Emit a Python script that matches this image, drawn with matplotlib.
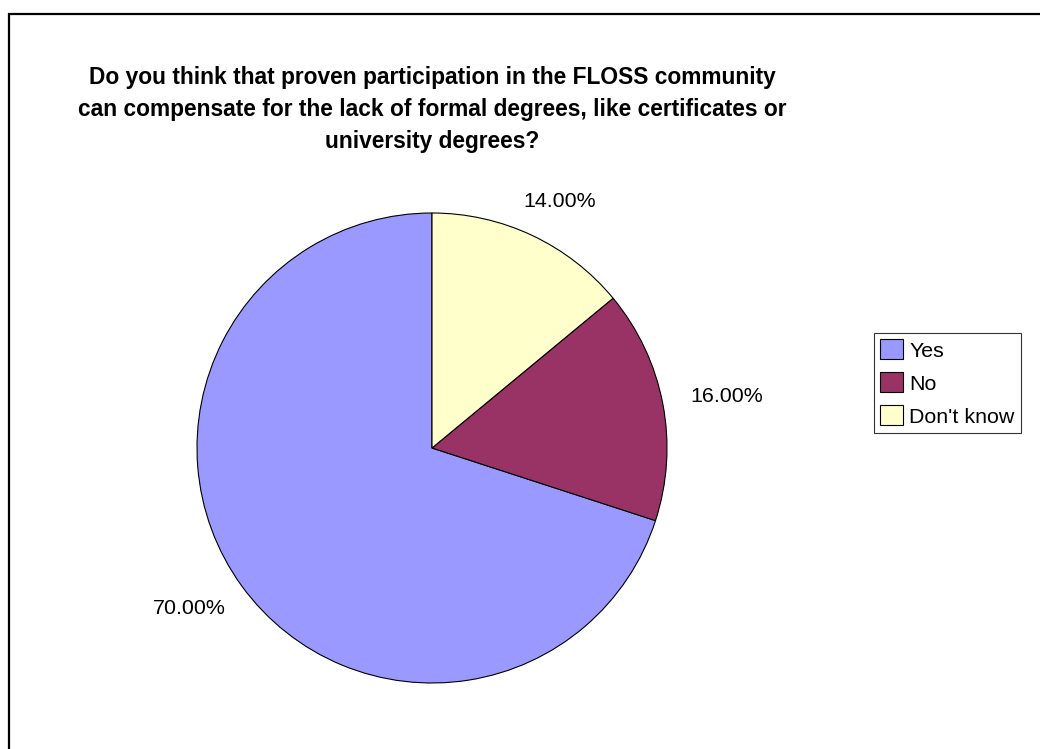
import matplotlib
matplotlib.use("Agg")
import matplotlib.pyplot as plt
import numpy as np
from matplotlib.patches import Rectangle

categories = ["Yes", "No", "Don't know"]
values = [70.0, 16.0, 14.0]
colors = ["#9999FF", "#993366", "#FFFFCC"]
title = ("Do you think that proven participation in the FLOSS community\n"
         "can compensate for the lack of formal degrees, like certificates or\n"
         "university degrees?")

plt.rcParams['font.family'] = ['Liberation Sans', 'DejaVu Sans']

W, H = 1040, 749
fig = plt.figure(figsize=(W / 100, H / 100), dpi=100)
fig.patch.set_facecolor("white")

# outer chart border
fig.add_artist(Rectangle((9 / W, -0.1), 1.2, (H - 14) / H + 0.1, transform=fig.transFigure,
                         fill=False, edgecolor="black", linewidth=1.6, clip_on=False))

# pie axes: center (432,448), radius 235 px
cx, cy, R = 432, 448, 235
ax = fig.add_axes([(cx - R) / W, (H - cy - R) / H, 2 * R / W, 2 * R / H])
wedges, _ = ax.pie(values, colors=colors, startangle=90, counterclock=True,
                   wedgeprops=dict(edgecolor="black", linewidth=0.8))
ax.set_xlim(-1, 1)
ax.set_ylim(-1, 1)
ax.set_aspect("equal")
ax.axis("off")

# percentage labels outside the pie
fig.canvas.draw()
renderer = fig.canvas.get_renderer()
gap = 0.12
for w, v in zip(wedges, values):
    mid = np.deg2rad((w.theta1 + w.theta2) / 2)
    t = ax.text(0, 0, f"{v:.2f}%", fontsize=15.4, ha="center", va="center")
    bb = t.get_window_extent(renderer)
    hw = bb.width / 2 / R
    hh = bb.height / 2 / R
    c, s = np.cos(mid), np.sin(mid)
    t.set_position(((1 + gap) * c + c * hw, (1 + gap) * s + s * hh))

fig.text(cx / W, 1 - 66 / H, title, ha="center", va="top", fontsize=16.4,
         fontweight="bold", linespacing=1.5)

leg = fig.legend(wedges, categories, loc="upper left",
                 bbox_to_anchor=(874 / W, 1 - 333 / H), fontsize=15.4,
                 frameon=True, fancybox=False, edgecolor="black",
                 handlelength=1.05, handleheight=1.05, handletextpad=0.3,
                 borderpad=0.3, labelspacing=0.55, borderaxespad=0)
leg.get_frame().set_linewidth(0.8)

fig.savefig("out.png", dpi=100, facecolor="white")
